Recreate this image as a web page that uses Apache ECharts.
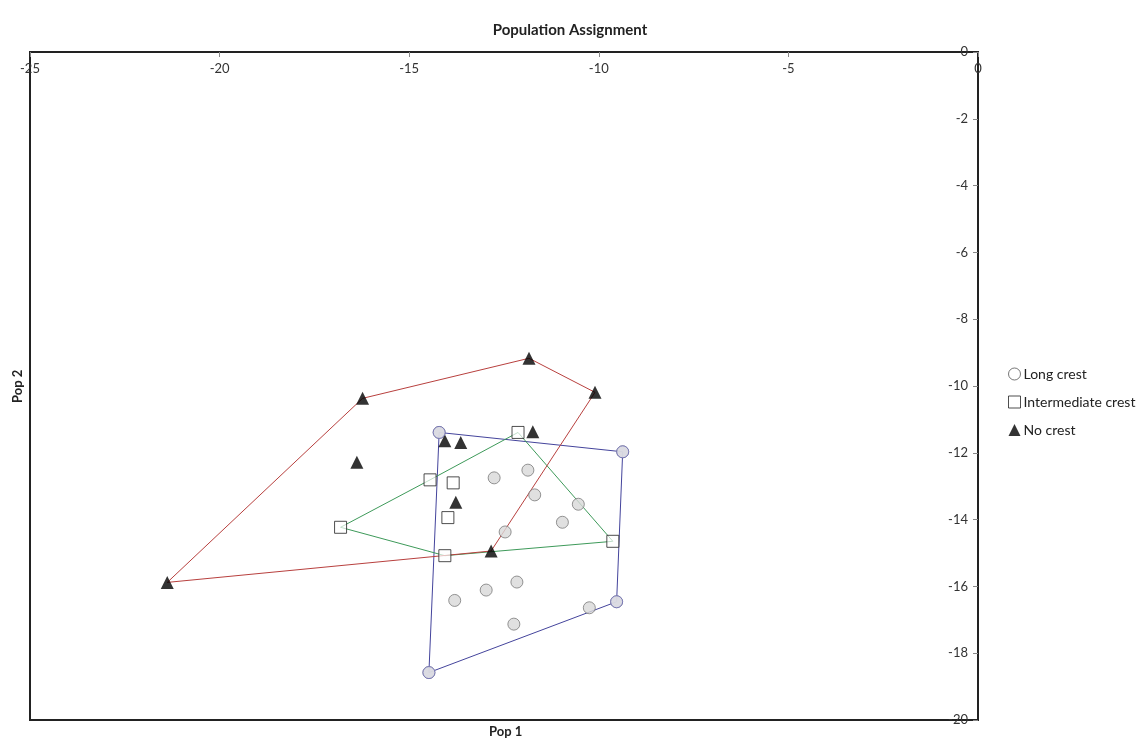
<!DOCTYPE html>
<html>
<head>
<meta charset="utf-8">
<title>Population Assignment</title>
<script src="https://cdn.jsdelivr.net/npm/echarts@6/dist/echarts.min.js"></script>
<style>
  html, body { margin: 0; padding: 0; background: #fff; }
  #chart { width: 1143px; height: 740px; }
</style>
</head>
<body>
<div id="chart"></div>
<script>
// Assignment scores: [Pop 1, Pop 2] for each individual
const longCrest = [
  [-14.21, -11.39], [-9.37, -11.97], [-9.53, -16.46], [-14.48, -18.58],
  [-10.25, -16.64], [-12.76, -12.75], [-11.87, -12.52], [-11.69, -13.26],
  [-10.54, -13.54], [-10.96, -14.08], [-12.47, -14.37], [-12.16, -15.87],
  [-12.97, -16.11], [-13.80, -16.42], [-12.24, -17.13]
];
const intermediateCrest = [
  [-12.13, -11.39], [-9.63, -14.65], [-14.06, -15.08], [-16.81, -14.23],
  [-14.45, -12.81], [-13.84, -12.90], [-13.98, -13.94]
];
const noCrest = [
  [-21.38, -15.88], [-16.23, -10.37], [-11.84, -9.17], [-10.10, -10.19],
  [-12.84, -14.94], [-16.38, -12.28], [-14.06, -11.64], [-13.64, -11.69],
  [-11.74, -11.37], [-13.77, -13.48]
];

// Convex hull outlines, as index order into each group (closed loop)
const longHull = [0, 1, 2, 3, 0];
const intermediateHull = [0, 1, 2, 3, 4, 0];
const noCrestHull = [0, 1, 2, 3, 4, 0];

const xTicks = { min: -25, max: 0, step: 5 };
const yTicks = { min: -20, max: 0, step: 2 };

const FONT = 'Lato, "Open Sans", sans-serif';

function hullPoints(points, order) {
  return order.map(i => points[i]);
}

const chart = echarts.init(document.getElementById('chart'), null, { renderer: 'canvas' });

chart.setOption({
  backgroundColor: '#ffffff',
  animation: false,
  textStyle: { fontFamily: FONT },
  title: {
    text: 'Population Assignment',
    left: 565, top: 18, textAlign: 'center',
    textStyle: { fontFamily: FONT, fontSize: 15, fontWeight: 'bold', color: '#222' }
  },
  grid: {
    left: 30, top: 52, right: 165, bottom: 20,
    show: true, borderColor: '#222', borderWidth: 2, backgroundColor: 'transparent'
  },
  xAxis: {
    type: 'value', position: 'top',
    min: xTicks.min, max: xTicks.max, interval: xTicks.step,
    axisLine: { show: true, lineStyle: { color: '#222', width: 2 } },
    axisTick: { show: true, inside: true, length: 5, lineStyle: { color: '#888' } },
    axisLabel: { inside: true, margin: 10, fontFamily: FONT, fontSize: 13, color: '#333' },
    splitLine: { show: false }
  },
  yAxis: {
    type: 'value', position: 'right',
    min: yTicks.min, max: yTicks.max, interval: yTicks.step,
    axisLine: { show: true, lineStyle: { color: '#222', width: 2 } },
    axisTick: { show: true, inside: true, length: 5, lineStyle: { color: '#888' } },
    axisLabel: { inside: true, margin: 10, fontFamily: FONT, fontSize: 13, color: '#333' },
    splitLine: { show: false }
  },
  legend: {
    orient: 'vertical',
    left: 1003, top: 362,
    itemWidth: 12, itemHeight: 12, itemGap: 14,
    textStyle: { fontFamily: FONT, fontSize: 14, color: '#222', padding: [0, 0, 0, -2] },
    data: [
      { name: 'Long crest', icon: 'circle',
        itemStyle: { color: '#fff', borderColor: '#555', borderWidth: 1 } },
      { name: 'Intermediate crest', icon: 'rect',
        itemStyle: { color: '#fff', borderColor: '#222', borderWidth: 1 } },
      { name: 'No crest', icon: 'triangle',
        itemStyle: { color: '#000', borderColor: '#000', borderWidth: 0 } }
    ]
  },
  graphic: [
    { type: 'text', left: 489, top: 725,
      style: { text: 'Pop 1', font: 'bold 13px ' + FONT, fill: '#222' } },
    { type: 'text', x: 11, y: 403, rotation: Math.PI / 2,
      style: { text: 'Pop 2', font: 'bold 13px ' + FONT, fill: '#222' } }
  ],
  series: [
    {
      name: 'Long crest hull', type: 'line', z: 2,
      data: hullPoints(longCrest, longHull),
      symbol: 'none',
      lineStyle: { color: '#44449c', width: 1 }
    },
    {
      name: 'Intermediate crest hull', type: 'line', z: 2,
      data: hullPoints(intermediateCrest, intermediateHull),
      symbol: 'none',
      lineStyle: { color: '#3e9a5a', width: 1 }
    },
    {
      name: 'No crest hull', type: 'line', z: 2,
      data: hullPoints(noCrest, noCrestHull),
      symbol: 'none',
      lineStyle: { color: '#b8403e', width: 1 }
    },
    {
      name: 'Long crest', type: 'scatter', z: 3,
      data: longCrest, symbol: 'circle', symbolSize: 12,
      itemStyle: { color: '#d8d8d8', borderColor: '#7a7a7a', borderWidth: 1 }
    },
    {
      name: 'Long crest hull vertices', type: 'scatter', z: 4,
      data: hullPoints(longCrest, longHull.slice(0, -1)),
      symbol: 'circle', symbolSize: 12,
      itemStyle: { color: '#dadae2', borderColor: '#6a6ab8', borderWidth: 1 }
    },
    {
      name: 'Intermediate crest', type: 'scatter', z: 3,
      data: intermediateCrest, symbol: 'rect', symbolSize: 12,
      itemStyle: { color: 'rgba(255,255,255,0.85)', borderColor: '#222', borderWidth: 1 }
    },
    {
      name: 'No crest', type: 'scatter', z: 3,
      data: noCrest, symbol: 'triangle', symbolSize: 13,
      itemStyle: { color: '#000', borderWidth: 0 }
    }
  ]
});
</script>
</body>
</html>
